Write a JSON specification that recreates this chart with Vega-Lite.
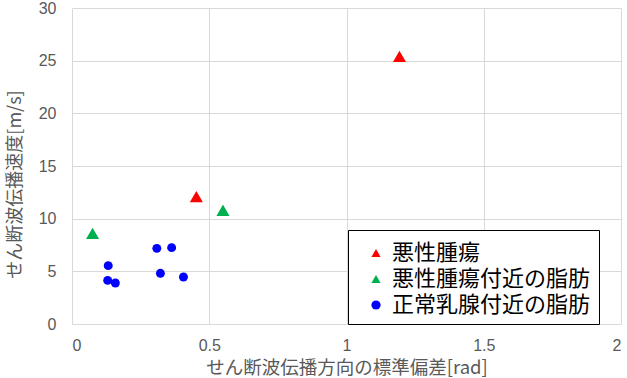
{
  "$schema": "https://vega.github.io/schema/vega-lite/v6.json",
  "width": 549,
  "height": 316,
  "autosize": {"type": "none"},
  "padding": {"left": 72, "top": 8, "right": 6, "bottom": 54},
  "background": "white",
  "config": {"view": {"stroke": null}},
  "data": {
    "values": [
      {"x": 1.193, "y": 25.4, "group": "悪性腫瘍"},
      {"x": 0.453, "y": 12.1, "group": "悪性腫瘍"},
      {"x": 0.075, "y": 8.6, "group": "悪性腫瘍付近の脂肪"},
      {"x": 0.55, "y": 10.8, "group": "悪性腫瘍付近の脂肪"},
      {"x": 0.132, "y": 5.54, "group": "正常乳腺付近の脂肪"},
      {"x": 0.13, "y": 4.14, "group": "正常乳腺付近の脂肪"},
      {"x": 0.158, "y": 3.89, "group": "正常乳腺付近の脂肪"},
      {"x": 0.309, "y": 7.18, "group": "正常乳腺付近の脂肪"},
      {"x": 0.363, "y": 7.25, "group": "正常乳腺付近の脂肪"},
      {"x": 0.322, "y": 4.81, "group": "正常乳腺付近の脂肪"},
      {"x": 0.406, "y": 4.46, "group": "正常乳腺付近の脂肪"}
    ]
  },
  "mark": {"type": "point", "filled": true, "opacity": 1, "strokeWidth": 0},
  "encoding": {
    "x": {
      "field": "x", "type": "quantitative",
      "scale": {"domain": [0, 2], "nice": false, "zero": false},
      "axis": {
        "title": "せん断波伝播方向の標準偏差[rad]",
        "values": [0, 0.5, 1, 1.5, 2],
        "labelExpr": "datum.value == 0 ? '0' : format(datum.value, '~g')",
        "domain": false, "ticks": false,
        "gridColor": "#d9d9d9", "gridWidth": 1,
        "labelFont": "Liberation Sans", "labelFontSize": 16, "labelColor": "#595959",
        "labelPadding": 13,
        "titleFont": "Noto Sans CJK JP", "titleFontSize": 18.5, "titleFontWeight": "normal", "titleColor": "#595959",
        "titlePadding": 5
      }
    },
    "y": {
      "field": "y", "type": "quantitative",
      "scale": {"domain": [0, 30], "nice": false},
      "axis": {
        "title": "せん断波伝播速度[m/s]",
        "values": [0, 5, 10, 15, 20, 25, 30],
        "domain": false, "ticks": false,
        "gridColor": "#d9d9d9", "gridWidth": 1,
        "labelFont": "Liberation Sans", "labelFontSize": 16, "labelColor": "#595959",
        "labelPadding": 16,
        "titleFont": "Noto Sans CJK JP", "titleFontSize": 18, "titleFontWeight": "normal", "titleColor": "#595959",
        "titlePadding": 14,
        "titleY": 176
      }
    },
    "color": {
      "field": "group", "type": "nominal",
      "scale": {
        "domain": ["悪性腫瘍", "悪性腫瘍付近の脂肪", "正常乳腺付近の脂肪"],
        "range": ["#ff0000", "#00b050", "#0000ff"]
      },
      "legend": {
        "title": " ",
        "titleFontSize": 1,
        "titlePadding": 3,
        "orient": "none",
        "legendX": 276,
        "legendY": 222,
        "strokeColor": "black",
        "fillColor": "white",
        "padding": 8,
        "labelFont": "Noto Sans CJK JP",
        "labelFontSize": 22,
        "labelColor": "black",
        "labelLimit": 400,
        "symbolSize": 85,
        "symbolStrokeWidth": 0,
        "symbolOffset": 9,
        "symbolOpacity": 1,
        "rowPadding": 4,
        "labelOffset": 5,
        "offset": 0
      }
    },
    "shape": {
      "field": "group", "type": "nominal",
      "scale": {
        "domain": ["悪性腫瘍", "悪性腫瘍付近の脂肪", "正常乳腺付近の脂肪"],
        "range": ["triangle-up", "triangle-up", "circle"]
      }
    },
    "size": {
      "condition": {"test": "datum.group === '正常乳腺付近の脂肪'", "value": 80},
      "value": 170
    }
  }
}
